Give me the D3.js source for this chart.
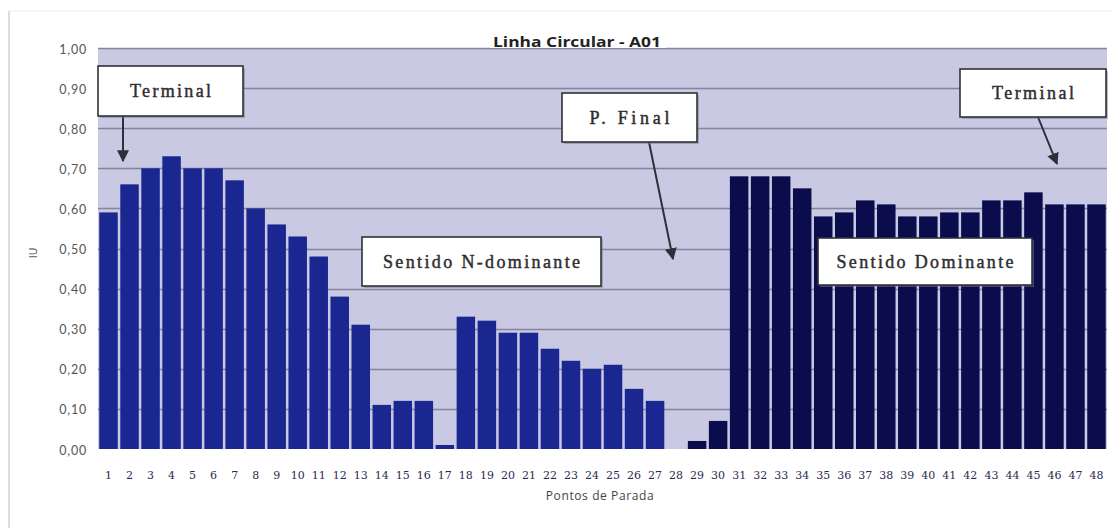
<!DOCTYPE html>
<html>
<head>
<meta charset="utf-8">
<script src="https://cdn.jsdelivr.net/npm/d3@7"></script>
<style>
  html, body { margin: 0; padding: 0; background: #ffffff; }
  svg { display: block; }
</style>
</head>
<body>
<svg id="chart" width="1120" height="528"></svg>
<script>
// ---------------- DATA ----------------
const categories = ["1","2","3","4","5","6","7","8","9","10","11","12","13","14","15","16",
  "17","18","19","20","21","22","23","24","25","26","27","28","29","30","31","32",
  "33","34","35","36","37","38","39","40","41","42","43","44","45","46","47","48"];

const iuValues = [0.59,0.66,0.70,0.73,0.70,0.70,0.67,0.60,0.56,0.53,0.48,0.38,0.31,0.11,0.12,0.12,
  0.01,0.33,0.32,0.29,0.29,0.25,0.22,0.20,0.21,0.15,0.12,0.00,0.02,0.07,0.68,0.68,
  0.68,0.65,0.58,0.59,0.62,0.61,0.58,0.58,0.59,0.59,0.62,0.62,0.64,0.61,0.61,0.61];

// direction of each stop: "N" = non-dominant, "D" = dominant
const direction = ["N","N","N","N","N","N","N","N","N","N","N","N","N","N","N","N",
  "N","N","N","N","N","N","N","N","N","N","N","D","D","D","D","D",
  "D","D","D","D","D","D","D","D","D","D","D","D","D","D","D","D"];

const yTicks = [0.0,0.1,0.2,0.3,0.4,0.5,0.6,0.7,0.8,0.9,1.0];

const chartTitle = "Linha Circular - A01";
const xTitle = "Pontos de Parada";
const yTitle = "IU";
const annotationTexts = ["Terminal", "P. Final", "Terminal", "Sentido N-dominante", "Sentido Dominante"];

// ---------------- LAYOUT ----------------
const svg = d3.select("#chart");
const plot = { left: 98, right: 1107, top: 48, bottom: 449 };

const x = d3.scaleBand().domain(categories)
  .range([plot.left, plot.right]).paddingInner(0.12).paddingOuter(0.06);
const y = d3.scaleLinear().domain([0, 1]).range([plot.bottom, plot.top]);

const ptBR = d3.formatLocale({decimal: ",", thousands: ".", grouping: [3], currency: ["R$", ""]});
const fmt = ptBR.format(".2f");

const colors = { N: "#1a2790", D: "#0b0c4c" };

// outer faint frame
svg.append("line").attr("x1", 9).attr("x2", 9).attr("y1", 11).attr("y2", 528)
  .attr("stroke", "#dcdcdc").attr("stroke-width", 2);
svg.append("line").attr("x1", 9).attr("x2", 1112).attr("y1", 11).attr("y2", 11)
  .attr("stroke", "#ececec").attr("stroke-width", 1);

// plot background
svg.append("rect")
  .attr("x", plot.left).attr("y", plot.top)
  .attr("width", plot.right - plot.left).attr("height", plot.bottom - plot.top)
  .attr("fill", "#c9c9e4");

// gridlines
svg.append("g").selectAll("line").data(yTicks.filter(d => d > 0)).join("line")
  .attr("x1", plot.left).attr("x2", plot.right)
  .attr("y1", d => Math.round(y(d)) + 0.5).attr("y2", d => Math.round(y(d)) + 0.5)
  .attr("stroke", "#85859a").attr("stroke-width", 1.3);

// bars
svg.append("g").selectAll("rect").data(categories).join("rect")
  .attr("x", d => x(d))
  .attr("width", x.bandwidth())
  .attr("y", (d, i) => y(iuValues[i]))
  .attr("height", (d, i) => y(0) - y(iuValues[i]))
  .attr("fill", (d, i) => colors[direction[i]]);

// y axis
const yAxis = d3.axisLeft(y).tickValues(yTicks).tickFormat(fmt).tickSize(0).tickPadding(11);
const gy = svg.append("g").attr("transform", `translate(${plot.left},0)`).call(yAxis);
gy.select(".domain").remove();
gy.selectAll("text")
  .attr("font-family", "Lato, 'Open Sans', sans-serif")
  .attr("font-size", 12.5).attr("fill", "#555").attr("letter-spacing", 0.8)
  .attr("dy", "0.4em");

// x axis
const xAxis = d3.axisBottom(x).tickSize(0).tickPadding(22);
const gx = svg.append("g").attr("transform", `translate(0,${plot.bottom})`).call(xAxis);
gx.select(".domain").remove();
gx.selectAll("text")
  .attr("font-family", "'DejaVu Serif', 'Liberation Serif', serif")
  .attr("font-size", 11).attr("fill", "#2a2a50");

// axis titles
svg.append("text").attr("x", 600).attr("y", 500).attr("text-anchor", "middle")
  .attr("font-family", "'Open Sans', sans-serif").attr("font-size", 12)
  .attr("letter-spacing", 0.6).attr("fill", "#444").text(xTitle);
svg.append("text").attr("transform", "translate(37,253) rotate(-90)").attr("text-anchor", "middle")
  .attr("font-family", "'Open Sans', sans-serif").attr("font-size", 10.5)
  .attr("fill", "#444").text(yTitle);

// title (sits on the top gridline, interrupting it)
svg.append("rect").attr("x", 490).attr("y", 33).attr("width", 176).attr("height", 15).attr("fill", "#ffffff");
svg.append("text").attr("x", 577).attr("y", 47).attr("text-anchor", "middle")
  .attr("font-family", "'Open Sans', Lato, sans-serif").attr("font-weight", "bold")
  .attr("font-size", 14.5).attr("fill", "#222")
  .attr("textLength", 168).attr("lengthAdjust", "spacingAndGlyphs")
  .text(chartTitle);

// ---------------- ANNOTATIONS ----------------
const boxes = [
  { x: 98,  y: 66,  w: 145, h: 50, tw: 81 },
  { x: 562, y: 93,  w: 135, h: 49, tw: 80 },
  { x: 960, y: 69,  w: 146, h: 48, tw: 82 },
  { x: 362, y: 237, w: 239, h: 49, tw: 197 },
  { x: 818, y: 238, w: 214, h: 47, tw: 177 }
];
const arrows = [
  { x1: 123, y1: 116, x2: 123, y2: 161 },
  { x1: 649, y1: 142, x2: 673, y2: 259 },
  { x1: 1038, y1: 117, x2: 1057, y2: 164 }
];

const defs = svg.append("defs");
defs.append("marker").attr("id", "arrowhead")
  .attr("viewBox", "0 0 10 10").attr("refX", 9).attr("refY", 5)
  .attr("markerWidth", 6).attr("markerHeight", 6).attr("orient", "auto")
  .attr("markerUnits", "strokeWidth")
  .append("path").attr("d", "M0,0 L10,5 L0,10 z").attr("fill", "#2f2f3a");

svg.append("g").selectAll("line").data(arrows).join("line")
  .attr("x1", d => d.x1).attr("y1", d => d.y1).attr("x2", d => d.x2).attr("y2", d => d.y2)
  .attr("stroke", "#2f2f3a").attr("stroke-width", 2).attr("marker-end", "url(#arrowhead)");

const ag = svg.append("g").selectAll("g").data(boxes).join("g");
ag.append("rect").attr("x", d => d.x + 2).attr("y", d => d.y + 2)
  .attr("width", d => d.w).attr("height", d => d.h).attr("fill", "#7a7a8a").attr("opacity", 0.5);
ag.append("rect").attr("x", d => d.x).attr("y", d => d.y)
  .attr("width", d => d.w).attr("height", d => d.h)
  .attr("fill", "#ffffff").attr("stroke", "#303038").attr("stroke-width", 1.6);
ag.append("text")
  .attr("x", d => d.x + d.w / 2).attr("y", d => d.y + d.h / 2 + 6)
  .attr("text-anchor", "middle")
  .attr("font-family", "'Liberation Serif', 'Times New Roman', serif")
  .attr("font-size", 18).attr("fill", "#2e2e2e")
  .attr("stroke", "#2e2e2e").attr("stroke-width", 0.45)
  .attr("textLength", d => d.tw).attr("lengthAdjust", "spacing")
  .text((d, i) => annotationTexts[i]);
</script>
</body>
</html>
